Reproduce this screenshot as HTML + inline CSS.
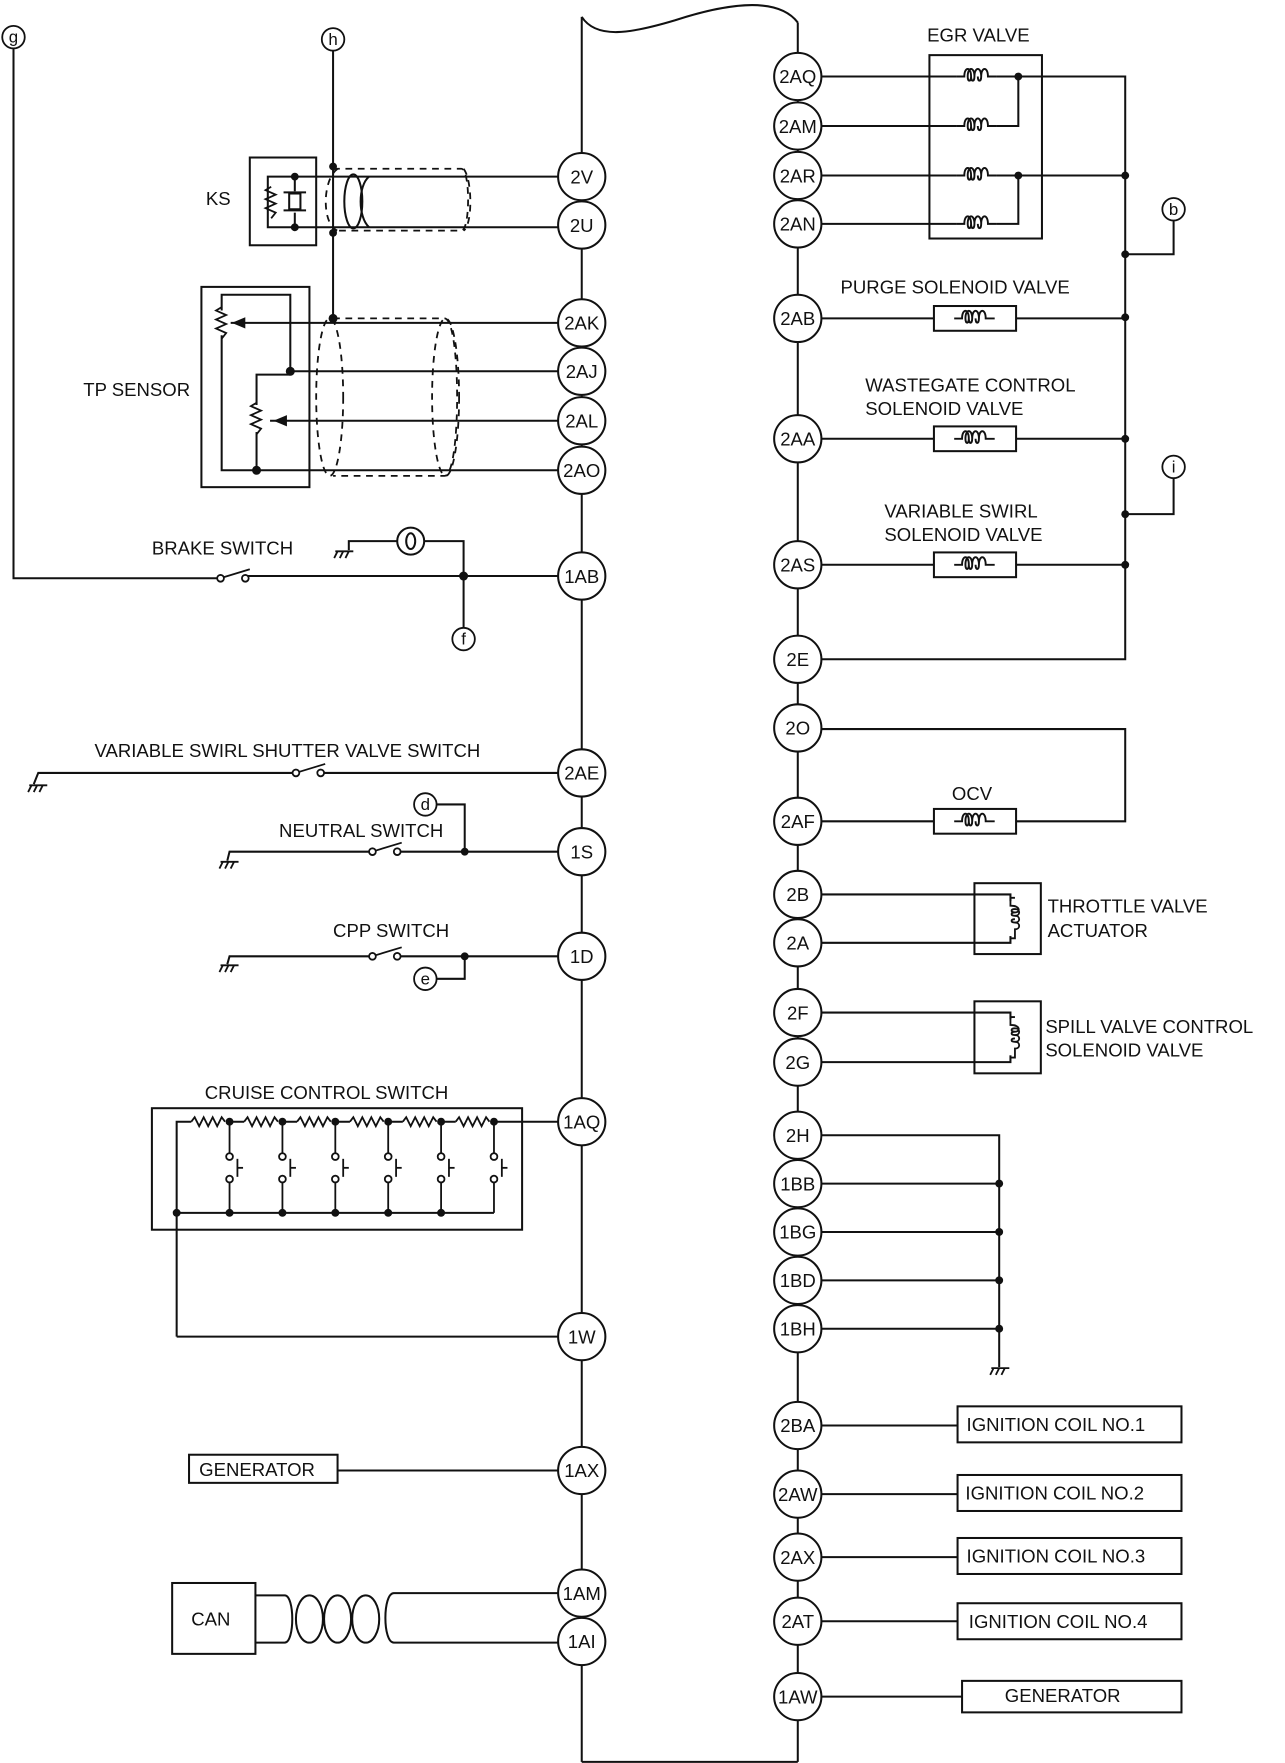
<!DOCTYPE html>
<html><head><meta charset="utf-8"><style>
html,body{margin:0;padding:0;background:#fff;}
svg{display:block;}
text{font-family:"Liberation Sans",sans-serif;fill:#111;}
</style></head><body>
<svg width="1285" height="1763" viewBox="0 0 1142 1567" preserveAspectRatio="none" xmlns="http://www.w3.org/2000/svg">
<defs>
<path id="coil" d="M-18 0 H-11 C-11 -9 -5 -9 -5 0 C-5 5 -8 5 -8 0 C-8 -9 -2 -9 -2 0 C-2 5 -5 5 -5 0 M-2 0 C-2 -9 4 -9 4 0 C4 5 1 5 1 0 M4 0 C4 -9 10 -9 10 0 H18" fill="none" stroke="#111" stroke-width="1.7"/>
<path id="vcoil" d="M0 -18 H-4 V-11 C5 -11 5 -5 0 -5 C-4 -5 -4 -8 0 -8 C5 -8 5 -2 0 -2 C-4 -2 -4 -5 0 -5 M0 -2 C5 -2 5 4 0 4 C-4 4 -4 1 0 1 M0 4 C5 4 5 10 0 10 V18 H-4" fill="none" stroke="#111" stroke-width="1.6"/>
<path id="res" d="M-16 0 l3 -4 l4 8 l4 -8 l4 8 l4 -8 l4 8 l4 -8 l3 4" fill="none" stroke="#111" stroke-width="1.6"/>
<path id="vres" d="M0 -14 l-5 3 l9 4 l-9 4 l9 4 l-9 4 l9 4 l-4 5" fill="none" stroke="#111" stroke-width="1.6"/>
<g id="gnd" stroke="#111" stroke-width="1.6"><line x1="-7" y1="0" x2="9" y2="0"/><line x1="-5" y1="0" x2="-8" y2="6"/><line x1="0" y1="0" x2="-3" y2="6"/><line x1="5" y1="0" x2="2" y2="6"/></g>
<g id="sw" fill="#fff" stroke="#111" stroke-width="1.6"><circle cx="0" cy="0" r="3"/><circle cx="22" cy="0" r="3"/><line x1="3" y1="-1" x2="26" y2="-8"/></g>
<g id="pb" fill="#fff" stroke="#111" stroke-width="1.6"><circle cx="0" cy="-10" r="3"/><circle cx="0" cy="10" r="3"/><line x1="0" y1="-41" x2="0" y2="-13"/><line x1="0" y1="13" x2="0" y2="40"/><line x1="7" y1="-8" x2="7" y2="8"/><line x1="7" y1="0" x2="12" y2="0"/></g>
</defs>
<g fill="none" stroke="#111" stroke-width="1.8">
<path d="M517 15 C530 35 560 30 600 18 C640 5 690 -5 709 20"/>
<line x1="517" y1="15" x2="517" y2="1566"/>
<line x1="709" y1="20" x2="709" y2="1566"/>
<line x1="517" y1="1566" x2="709" y2="1566"/>
<polyline points="12,43 12,514 195,514"/>
<line x1="218" y1="512" x2="496" y2="512"/>
<line x1="296" y1="45" x2="296" y2="287"/>
<rect x="222" y="140" width="59" height="78"/>
<polyline points="262,157 238,157 238,202 262,202"/>
<line x1="262" y1="157" x2="262" y2="170"/><line x1="262" y1="189" x2="262" y2="202"/>
<rect x="257" y="172" width="10" height="14"/>
<line x1="252" y1="171" x2="272" y2="171"/><line x1="252" y1="187" x2="272" y2="187"/>
<line x1="262" y1="157" x2="496" y2="157"/>
<line x1="262" y1="202" x2="496" y2="202"/>
<ellipse cx="314" cy="179" rx="8" ry="24"/>
<path d="M328 157 C318 165 318 193 328 202"/>
</g>
<use href="#vres" x="241" y="180"/>
<g fill="none" stroke="#111" stroke-width="1.6" stroke-dasharray="6,5">
<path d="M296 150 H410 C418 150 418 205 410 205 H296"/>
<path d="M300 150 C286 160 286 200 300 205"/>
<path d="M412 150 C420 160 420 200 412 205"/>
<path d="M296 283 H395 C410 283 410 423 395 423 H296"/>
<ellipse cx="293" cy="353" rx="12" ry="70"/>
<ellipse cx="396" cy="353" rx="12" ry="70"/>
</g>
<g fill="none" stroke="#111" stroke-width="1.8">
<rect x="179" y="255" width="96" height="178"/>
<polyline points="258,330 258,262 197,262 197,276"/>
<polyline points="197,298 197,418 496,418"/>
<line x1="228" y1="418" x2="228" y2="384"/>
<polyline points="228,360 228,333 258,333"/>
<line x1="258" y1="330" x2="496" y2="330"/>
<line x1="205" y1="287" x2="496" y2="287"/>
<line x1="240" y1="374" x2="496" y2="374"/>
</g>
<use href="#vres" x="197" y="287"/>
<use href="#vres" x="228" y="372"/>
<polygon points="206,287 218,282 218,292" fill="#111"/>
<polygon points="243,374 255,369 255,379" fill="#111"/>
<g fill="none" stroke="#111" stroke-width="1.8">
<polyline points="310,489 310,481 353,481"/>
<polyline points="377,481 412,481 412,558"/>
<circle cx="365" cy="481" r="12" fill="#fff"/>
<ellipse cx="365" cy="481" rx="4" ry="7"/>
<polyline points="30,697 34,687 262,687"/>
<line x1="285" y1="687" x2="496" y2="687"/>
<polyline points="202,765 204,757 330,757"/>
<line x1="352" y1="757" x2="496" y2="757"/>
<polyline points="388,715 413,715 413,757"/>
<polyline points="202,857 204,850 330,850"/>
<line x1="352" y1="850" x2="496" y2="850"/>
<polyline points="413,850 413,870 388,870"/>
</g>
<use href="#gnd" x="305" y="490"/>
<use href="#gnd" x="33" y="698"/>
<use href="#gnd" x="203" y="766"/>
<use href="#gnd" x="203" y="858"/>
<use href="#sw" x="196" y="514"/>
<use href="#sw" x="263" y="687"/>
<use href="#sw" x="331" y="757"/>
<use href="#sw" x="331" y="850"/>
<g fill="#111">
<circle cx="296" cy="148" r="3.5"/><circle cx="296" cy="207" r="3.5"/><circle cx="296" cy="283" r="4"/>
<circle cx="262" cy="157" r="3.5"/><circle cx="262" cy="202" r="3.5"/>
<circle cx="258" cy="330" r="4"/><circle cx="228" cy="418" r="4"/>
<circle cx="412" cy="512" r="4"/><circle cx="413" cy="757" r="3.5"/><circle cx="413" cy="850" r="3.5"/>
</g>
<g fill="none" stroke="#111" stroke-width="1.8">
<rect x="135" y="985" width="329" height="108"/>
<polyline points="157,1188 157,997 170,997"/>
<line x1="157" y1="1188" x2="496" y2="1188"/>
<line x1="157" y1="1078" x2="439" y2="1078"/>
<line x1="439" y1="997" x2="496" y2="997"/>
<line x1="202" y1="997" x2="217" y2="997"/><line x1="249" y1="997" x2="264" y2="997"/><line x1="296" y1="997" x2="311" y2="997"/><line x1="343" y1="997" x2="358" y2="997"/><line x1="390" y1="997" x2="405" y2="997"/>
</g>
<use href="#res" x="186" y="997"/><use href="#res" x="233" y="997"/><use href="#res" x="280" y="997"/><use href="#res" x="327" y="997"/><use href="#res" x="374" y="997"/><use href="#res" x="421" y="997"/>
<use href="#pb" x="204" y="1038"/><use href="#pb" x="251" y="1038"/><use href="#pb" x="298" y="1038"/><use href="#pb" x="345" y="1038"/><use href="#pb" x="392" y="1038"/><use href="#pb" x="439" y="1038"/>
<g fill="#111">
<circle cx="204" cy="997" r="3.5"/><circle cx="251" cy="997" r="3.5"/><circle cx="298" cy="997" r="3.5"/><circle cx="345" cy="997" r="3.5"/><circle cx="392" cy="997" r="3.5"/><circle cx="439" cy="997" r="3.5"/>
<circle cx="157" cy="1078" r="3.5"/><circle cx="204" cy="1078" r="3.5"/><circle cx="251" cy="1078" r="3.5"/><circle cx="298" cy="1078" r="3.5"/><circle cx="345" cy="1078" r="3.5"/><circle cx="392" cy="1078" r="3.5"/>
</g>
<g fill="none" stroke="#111" stroke-width="1.8">
<rect x="168" y="1293" width="132" height="25"/>
<line x1="300" y1="1307" x2="496" y2="1307"/>
<rect x="153" y="1407" width="74" height="63"/>
<path d="M227 1418 H253 C262 1418 262 1460 253 1460 H227"/>
<ellipse cx="275" cy="1439" rx="12" ry="21"/><ellipse cx="300" cy="1439" rx="12" ry="21"/><ellipse cx="325" cy="1439" rx="12" ry="21"/>
<path d="M496 1416 H350 C340 1416 340 1460 350 1460 H496"/>
</g>
<g fill="none" stroke="#111" stroke-width="1.8">
<rect x="826" y="49" width="100" height="163"/>
<line x1="730" y1="68" x2="850" y2="68"/><polyline points="886,68 1000,68 1000,586 730,586"/>
<line x1="730" y1="112" x2="850" y2="112"/><polyline points="886,112 905,112 905,68"/>
<line x1="730" y1="156" x2="850" y2="156"/><line x1="886" y1="156" x2="1000" y2="156"/>
<line x1="730" y1="199" x2="850" y2="199"/><polyline points="886,199 905,199 905,156"/>
<polyline points="1000,226 1043,226 1043,196"/>
<polyline points="1000,457 1043,457 1043,425"/>
<line x1="730" y1="283" x2="1000" y2="283"/><rect x="830" y="272" width="73" height="22" fill="#fff"/>
<line x1="730" y1="390" x2="1000" y2="390"/><rect x="830" y="379" width="73" height="22" fill="#fff"/>
<line x1="730" y1="502" x2="1000" y2="502"/><rect x="830" y="491" width="73" height="22" fill="#fff"/>
<polyline points="730,648 1000,648 1000,730 730,730"/><rect x="830" y="719" width="73" height="22" fill="#fff"/>
<rect x="866" y="785" width="59" height="63"/>
<polyline points="730,795 898,795 898,838 730,838"/>
<rect x="866" y="890" width="59" height="64"/>
<polyline points="730,900 898,900 898,944 730,944"/>
<polyline points="730,1009 888,1009 888,1215"/>
<line x1="730" y1="1052" x2="888" y2="1052"/><line x1="730" y1="1095" x2="888" y2="1095"/><line x1="730" y1="1138" x2="888" y2="1138"/><line x1="730" y1="1181" x2="888" y2="1181"/>
<line x1="730" y1="1267" x2="851" y2="1267"/><rect x="851" y="1250" width="199" height="32"/>
<line x1="730" y1="1328" x2="851" y2="1328"/><rect x="851" y="1311" width="199" height="32"/>
<line x1="730" y1="1384" x2="851" y2="1384"/><rect x="851" y="1367" width="199" height="32"/>
<line x1="730" y1="1441" x2="851" y2="1441"/><rect x="851" y="1425" width="199" height="32"/>
<line x1="730" y1="1508" x2="855" y2="1508"/><rect x="855" y="1494" width="195" height="28"/>
</g>
<use href="#coil" x="868" y="68"/><use href="#coil" x="868" y="112"/><use href="#coil" x="868" y="156"/><use href="#coil" x="868" y="199"/>
<use href="#coil" x="866" y="283"/><use href="#coil" x="866" y="390"/><use href="#coil" x="866" y="502"/><use href="#coil" x="866" y="730"/>
<rect x="890" y="801" width="16" height="31" fill="#fff"/><use href="#vcoil" x="902" y="816"/>
<rect x="890" y="906" width="16" height="32" fill="#fff"/><use href="#vcoil" x="902" y="922"/>
<use href="#gnd" x="888" y="1216"/>
<g fill="#111">
<circle cx="905" cy="68" r="3.5"/><circle cx="905" cy="156" r="3.5"/><circle cx="1000" cy="156" r="3.5"/><circle cx="1000" cy="226" r="3.5"/><circle cx="1000" cy="282" r="3.5"/><circle cx="1000" cy="390" r="3.5"/><circle cx="1000" cy="457" r="3.5"/><circle cx="1000" cy="502" r="3.5"/>
<circle cx="888" cy="1052" r="3.5"/><circle cx="888" cy="1095" r="3.5"/><circle cx="888" cy="1138" r="3.5"/><circle cx="888" cy="1181" r="3.5"/>
</g>
<g fill="#fff" stroke="#111" stroke-width="1.6">
<circle cx="12" cy="33" r="10"/><circle cx="296" cy="35" r="10"/><circle cx="412" cy="568" r="10"/><circle cx="378" cy="715" r="10"/><circle cx="378" cy="870" r="10"/><circle cx="1043" cy="186" r="10"/><circle cx="1043" cy="415" r="10"/>
</g>
<g font-size="15" text-anchor="middle">
<text x="12" y="38">g</text><text x="296" y="40">h</text><text x="412" y="573">f</text><text x="378" y="720">d</text><text x="378" y="875">e</text><text x="1043" y="191">b</text><text x="1043" y="420">i</text>
</g>
<g fill="#fff" stroke="#111" stroke-width="1.8">
<circle cx="517" cy="157" r="21"/><circle cx="517" cy="200" r="21"/><circle cx="517" cy="287" r="21"/><circle cx="517" cy="330" r="21"/><circle cx="517" cy="374" r="21"/><circle cx="517" cy="418" r="21"/><circle cx="517" cy="512" r="21"/><circle cx="517" cy="687" r="21"/><circle cx="517" cy="757" r="21"/><circle cx="517" cy="850" r="21"/><circle cx="517" cy="997" r="21"/><circle cx="517" cy="1188" r="21"/><circle cx="517" cy="1307" r="21"/><circle cx="517" cy="1416" r="21"/><circle cx="517" cy="1459" r="21"/>
<circle cx="709" cy="68" r="21"/><circle cx="709" cy="112" r="21"/><circle cx="709" cy="156" r="21"/><circle cx="709" cy="199" r="21"/><circle cx="709" cy="283" r="21"/><circle cx="709" cy="390" r="21"/><circle cx="709" cy="502" r="21"/><circle cx="709" cy="586" r="21"/><circle cx="709" cy="647" r="21"/><circle cx="709" cy="730" r="21"/><circle cx="709" cy="795" r="21"/><circle cx="709" cy="838" r="21"/><circle cx="709" cy="900" r="21"/><circle cx="709" cy="944" r="21"/><circle cx="709" cy="1009" r="21"/><circle cx="709" cy="1052" r="21"/><circle cx="709" cy="1095" r="21"/><circle cx="709" cy="1138" r="21"/><circle cx="709" cy="1181" r="21"/><circle cx="709" cy="1267" r="21"/><circle cx="709" cy="1328" r="21"/><circle cx="709" cy="1384" r="21"/><circle cx="709" cy="1441" r="21"/><circle cx="709" cy="1508" r="21"/>
</g>
<g font-size="16.5" text-anchor="middle">
<text x="517" y="163">2V</text><text x="517" y="206">2U</text><text x="517" y="293">2AK</text><text x="517" y="336">2AJ</text><text x="517" y="380">2AL</text><text x="517" y="424">2AO</text><text x="517" y="518">1AB</text><text x="517" y="693">2AE</text><text x="517" y="763">1S</text><text x="517" y="856">1D</text><text x="517" y="1003">1AQ</text><text x="517" y="1194">1W</text><text x="517" y="1313">1AX</text><text x="517" y="1422">1AM</text><text x="517" y="1465">1AI</text>
<text x="709" y="74">2AQ</text><text x="709" y="118">2AM</text><text x="709" y="162">2AR</text><text x="709" y="205">2AN</text><text x="709" y="289">2AB</text><text x="709" y="396">2AA</text><text x="709" y="508">2AS</text><text x="709" y="592">2E</text><text x="709" y="653">2O</text><text x="709" y="736">2AF</text><text x="709" y="801">2B</text><text x="709" y="844">2A</text><text x="709" y="906">2F</text><text x="709" y="950">2G</text><text x="709" y="1015">2H</text><text x="709" y="1058">1BB</text><text x="709" y="1101">1BG</text><text x="709" y="1144">1BD</text><text x="709" y="1187">1BH</text><text x="709" y="1273">2BA</text><text x="709" y="1334">2AW</text><text x="709" y="1390">2AX</text><text x="709" y="1447">2AT</text><text x="709" y="1514">1AW</text>
</g>
<g font-size="16.5">
<text x="183" y="182">KS</text>
<text x="74" y="352">TP SENSOR</text>
<text x="135" y="493">BRAKE SWITCH</text>
<text x="84" y="673">VARIABLE SWIRL SHUTTER VALVE SWITCH</text>
<text x="248" y="744">NEUTRAL SWITCH</text>
<text x="296" y="833">CPP SWITCH</text>
<text x="182" y="977">CRUISE CONTROL SWITCH</text>
<text x="177" y="1312">GENERATOR</text>
<text x="170" y="1445">CAN</text>
<text x="824" y="37">EGR VALVE</text>
<text x="747" y="261">PURGE SOLENOID VALVE</text>
<text x="769" y="348">WASTEGATE CONTROL</text>
<text x="769" y="369">SOLENOID VALVE</text>
<text x="786" y="460">VARIABLE SWIRL</text>
<text x="786" y="481">SOLENOID VALVE</text>
<text x="846" y="711">OCV</text>
<text x="931" y="811">THROTTLE VALVE</text>
<text x="931" y="833">ACTUATOR</text>
<text x="929" y="918">SPILL VALVE CONTROL</text>
<text x="929" y="939">SOLENOID VALVE</text>
<text x="859" y="1272">IGNITION COIL NO.1</text>
<text x="858" y="1333">IGNITION COIL NO.2</text>
<text x="859" y="1389">IGNITION COIL NO.3</text>
<text x="861" y="1447">IGNITION COIL NO.4</text>
<text x="893" y="1513">GENERATOR</text>
</g>
</svg>
</body></html>
